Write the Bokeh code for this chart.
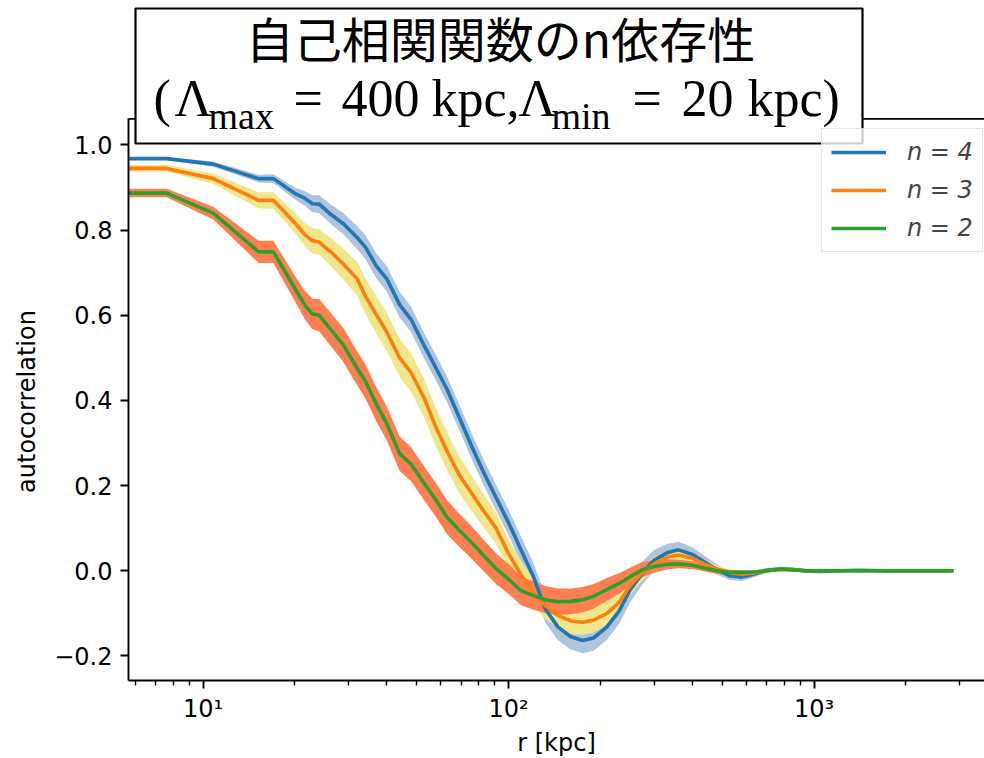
import numpy as np
from bokeh.plotting import figure
from bokeh.models import (FixedTicker, CustomJSTickFormatter, BoxAnnotation,
                          Label, Legend, LegendItem, Range1d)
from bokeh.embed import file_html
from bokeh.resources import INLINE

# ---------------- data ----------------
r_kpc = [5.7, 7.6, 10.8, 15.2, 17.0, 20.1, 21.5, 22.8, 24.0, 26.3, 28.8, 32, 34, 37, 40, 44, 48,
         53, 58, 63, 69, 76, 83, 91, 100, 110, 120, 132, 145, 160, 175, 190, 210, 230, 250, 275,
         300, 330, 360, 400, 440, 480, 530, 580, 640, 700, 780, 860, 950, 1050, 1200, 1400, 1700,
         2000, 2400, 2860]

auto_n4 = [0.968, 0.968, 0.955, 0.921, 0.921, 0.885, 0.875, 0.862, 0.861, 0.836, 0.815, 0.782,
           0.760, 0.715, 0.685, 0.625, 0.590, 0.528, 0.475, 0.425, 0.360, 0.290, 0.230, 0.172,
           0.113, 0.048, -0.010, -0.090, -0.132, -0.155, -0.164, -0.158, -0.132, -0.095, -0.045,
           -0.005, 0.025, 0.042, 0.049, 0.038, 0.020, 0.003, -0.012, -0.015, -0.008, 0.001, 0.004,
           0.003, -0.001, -0.002, 0.000, 0.001, 0.000, 0.000, 0.000, 0.000]
auto_n3 = [0.945, 0.945, 0.921, 0.870, 0.870, 0.815, 0.790, 0.775, 0.772, 0.748, 0.720, 0.685,
           0.645, 0.600, 0.560, 0.500, 0.465, 0.405, 0.335, 0.280, 0.225, 0.180, 0.140, 0.100,
           0.040, -0.010, -0.050, -0.082, -0.105, -0.118, -0.121, -0.116, -0.100, -0.075, -0.035,
           -0.003, 0.016, 0.032, 0.037, 0.029, 0.015, 0.004, -0.005, -0.008, -0.005, 0.000, 0.003,
           0.002, 0.000, 0.000, 0.000, 0.000, 0.000, 0.000, 0.000, 0.000]
auto_n2 = [0.887, 0.887, 0.840, 0.749, 0.749, 0.660, 0.625, 0.603, 0.600, 0.565, 0.530, 0.475,
           0.445, 0.390, 0.345, 0.275, 0.250, 0.205, 0.165, 0.125, 0.095, 0.065, 0.035, 0.005,
           -0.020, -0.047, -0.058, -0.068, -0.073, -0.072, -0.068, -0.060, -0.044, -0.030, -0.014,
           0.003, 0.010, 0.015, 0.016, 0.013, 0.006, 0.000, -0.004, -0.004, -0.003, 0.000, 0.004,
           0.002, 0.000, 0.000, 0.000, 0.000, 0.000, 0.000, 0.000, 0.000]

err_n4 = [0.003, 0.003, 0.006, 0.009, 0.010, 0.014, 0.017, 0.020, 0.021, 0.023, 0.025, 0.027,
          0.028, 0.029, 0.030, 0.030, 0.030, 0.030, 0.030, 0.030, 0.030, 0.030, 0.030, 0.030,
          0.030, 0.031, 0.032, 0.032, 0.031, 0.030, 0.030, 0.030, 0.030, 0.030, 0.029, 0.027,
          0.024, 0.021, 0.019, 0.017, 0.014, 0.012, 0.010, 0.009, 0.007, 0.006, 0.005, 0.004,
          0.004, 0.003, 0.003, 0.003, 0.002, 0.002, 0.002, 0.002]
err_n3 = [0.008, 0.008, 0.012, 0.019, 0.019, 0.024, 0.027, 0.030, 0.030, 0.033, 0.036, 0.040,
          0.042, 0.044, 0.045, 0.045, 0.045, 0.045, 0.045, 0.044, 0.043, 0.041, 0.039, 0.037,
          0.035, 0.033, 0.032, 0.031, 0.030, 0.030, 0.030, 0.029, 0.027, 0.025, 0.022, 0.019,
          0.016, 0.014, 0.012, 0.011, 0.010, 0.008, 0.007, 0.006, 0.005, 0.004, 0.004, 0.003,
          0.003, 0.003, 0.002, 0.002, 0.002, 0.002, 0.002, 0.002]
err_n2 = [0.010, 0.010, 0.015, 0.026, 0.026, 0.030, 0.033, 0.036, 0.038, 0.039, 0.040, 0.040,
          0.040, 0.040, 0.040, 0.040, 0.040, 0.040, 0.040, 0.040, 0.039, 0.038, 0.037, 0.036,
          0.035, 0.034, 0.033, 0.032, 0.031, 0.030, 0.030, 0.029, 0.027, 0.024, 0.021, 0.018,
          0.015, 0.012, 0.010, 0.009, 0.008, 0.007, 0.006, 0.005, 0.004, 0.004, 0.003, 0.003,
          0.003, 0.002, 0.002, 0.002, 0.002, 0.002, 0.002, 0.002]

series_labels = ["n = 4", "n = 3", "n = 2"]
x_major_ticks = [10, 100, 1000]
x_minor_ticks = [6, 7, 8, 9, 20, 30, 40, 50, 60, 70, 80, 90,
                 200, 300, 400, 500, 600, 700, 800, 900, 2000, 3000]
y_ticks = [-0.2, 0.0, 0.2, 0.4, 0.6, 0.8, 1.0]
title_line1 = "自己相関関数のn依存性"

# axes limits (the spines of the original axes box)
X_LO, X_HI = 5.703, 3614.0
Y_LO, Y_HI = -0.2579, 1.0613
Y_CANVAS_TOP = 1.3394        # value at the very top of the picture (room for the title box)

# ---------------- figure ----------------
FL, FB = 128, 680            # frame left / bottom in canvas pixels
p = figure(frame_width=984 - FL, frame_height=FB,
           min_border_left=FL, min_border_right=0, min_border_top=0, min_border_bottom=758 - FB,
           x_axis_type="log", x_range=Range1d(X_LO, X_HI),
           y_range=Range1d(Y_LO, Y_CANVAS_TOP),
           output_backend="svg", toolbar_location=None)
p.xgrid.visible = False
p.ygrid.visible = False
p.outline_line_color = None
p.background_fill_color = "white"
p.border_fill_color = "white"

line_colors = ["#1f77b4", "#ff7f0e", "#2ca02c"]
band_colors = ["#b0c4de", "#f0e68c", "#ff7f50"]
ys = [auto_n4, auto_n3, auto_n2]
errs = [err_n4, err_n3, err_n2]
x = np.array(r_kpc)

for y, e, c in zip(ys, errs, band_colors):
    y = np.array(y); e = np.array(e)
    p.varea(x=x, y1=y - e, y2=y + e, fill_color=c, fill_alpha=1.0)

lines = []
for y, c in zip(ys, line_colors):
    lines.append(p.line(x=x, y=np.array(y), line_color=c, line_width=3.6))

# top spine of the axes box
p.segment(x0=[X_LO], y0=[Y_HI], x1=[X_HI], y1=[Y_HI], line_color="black", line_width=1.9)

# axes styling
xa = p.xaxis[0]
xa.ticker = FixedTicker(ticks=x_major_ticks, minor_ticks=x_minor_ticks)
xa.formatter = CustomJSTickFormatter(code="""
const sup = {1: '\u00b9', 2: '\u00b2', 3: '\u00b3'};
return '10' + sup[Math.round(Math.log10(tick))];
""")
xa.axis_label = "r [kpc]"
xa.axis_label_standoff = 3
xa.major_label_standoff = 6

ya = p.yaxis[0]
ya.ticker = FixedTicker(ticks=y_ticks)
ya.bounds = (Y_LO, Y_HI)
ya.formatter = CustomJSTickFormatter(code="""
return (tick < -1e-9 ? '\u2212' : '') + Math.abs(tick).toFixed(1);
""")
# trailing no-break spaces keep the label centred on the visible spine (118..680 px)
ya.axis_label = "autocorrelation" + "\u00a0" * 16
ya.axis_label_standoff = 10
ya.major_label_standoff = 8
ya.minor_tick_line_color = None

for ax in (xa, ya):
    ax.axis_label_text_font = "DejaVu Sans"
    ax.axis_label_text_font_size = "24px"
    ax.axis_label_text_font_style = "normal"
    ax.axis_label_text_color = "black"
    ax.major_label_text_font = "DejaVu Sans"
    ax.major_label_text_font_size = "24px"
    ax.major_label_text_color = "black"
    ax.axis_line_color = "black"
    ax.axis_line_width = 1.9
    ax.major_tick_line_color = "black"
    ax.major_tick_line_width = 1.9
    ax.major_tick_in = 0
    ax.major_tick_out = 8
    ax.minor_tick_in = 0
    ax.minor_tick_out = 5
xa.minor_tick_line_color = "black"
xa.minor_tick_line_width = 1.4

# legend
legend = Legend(items=[LegendItem(label=l, renderers=[r]) for l, r in zip(series_labels, lines)],
                location=(821 - FL, FB - 252), label_text_font="DejaVu Sans",
                label_text_font_size="24px", label_text_font_style="italic",
                glyph_width=55, glyph_height=24, label_height=24,
                label_standoff=21, spacing=10, padding=9, margin=0,
                border_line_color="#cccccc", border_line_width=1.8,
                background_fill_color="white", background_fill_alpha=0.8)
p.add_layout(legend, "center")

# title box (screen units: x from frame left, y up from frame bottom)
def sx(cx):
    return cx - FL
def sy(cy):
    return FB - cy

box = BoxAnnotation(left=sx(135), right=sx(862), top=sy(8), bottom=sy(143),
                    left_units="screen", right_units="screen", top_units="screen",
                    bottom_units="screen", fill_color="white", fill_alpha=1.0,
                    line_color="black", line_alpha=1.0, line_width=2.2, level="annotation")
p.add_layout(box)

p.add_layout(Label(x=sx(500), y=sy(36), x_units="screen", y_units="screen", text=title_line1,
                   text_font="Noto Sans CJK JP", text_font_size="48px", text_align="center",
                   text_baseline="middle", text_color="black", level="annotation"))

tokens = [("(", 153, False), ("Λ", 174, False), ("max", 208, True), ("=", 293, False),
          ("400", 341, False), ("kpc,", 431, False), ("Λ", 518, False), ("min", 551, True),
          ("=", 632, False), ("20", 681, False), ("kpc)", 747, False)]
for t, cx, sub in tokens:
    p.add_layout(Label(x=sx(cx), y=sy(115 if sub else 98), x_units="screen", y_units="screen",
                       text=t, text_font="Liberation Serif",
                       text_font_size="38px" if sub else "52px", text_align="left",
                       text_baseline="alphabetic", text_color="black", level="annotation"))

open("out.html", "w").write(file_html(p, INLINE))
